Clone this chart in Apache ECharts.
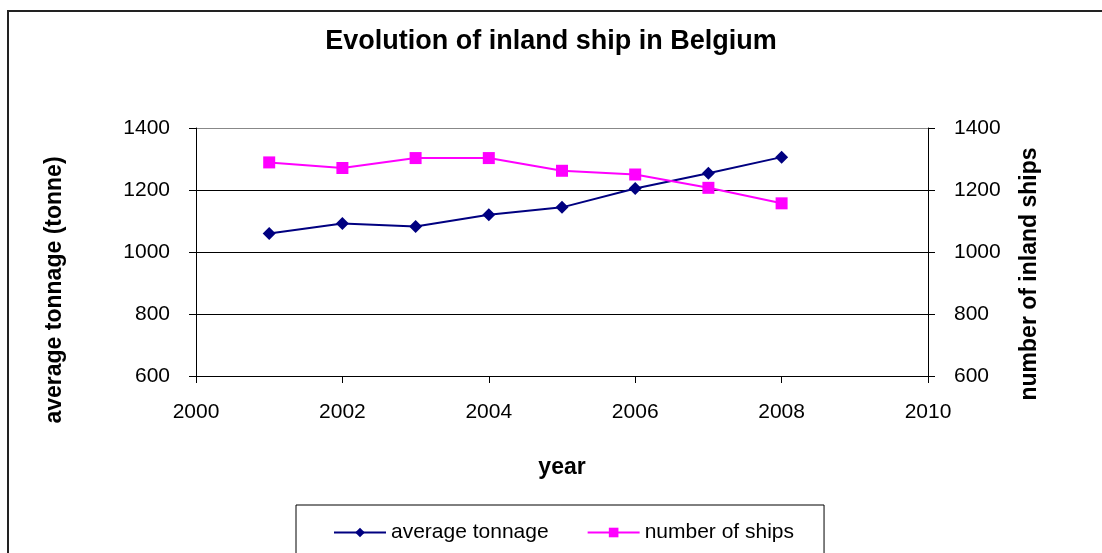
<!DOCTYPE html>
<html>
<head>
<meta charset="utf-8">
<script src="https://cdn.jsdelivr.net/npm/echarts@6/dist/echarts.min.js"></script>
<style>
  html, body { margin: 0; padding: 0; background: #fff; }
  #chart { width: 1102px; height: 553px; }
</style>
</head>
<body>
<div id="chart"></div>
<script>
// data
var years = [2001, 2002, 2003, 2004, 2005, 2006, 2007, 2008]
var avg_tonnage = [1060, 1092, 1082, 1120, 1144, 1205, 1254, 1306]
var ship_count = [1289, 1271, 1303, 1303, 1262, 1250, 1207, 1157]

var chart = echarts.init(document.getElementById('chart'));
var font = 'Liberation Sans, Arial, sans-serif';

function pairs(xs, ys) {
    return xs.map(function (x, i) { return [x, ys[i]]; });
}

// plain numbers, no thousands separator
function plain(v) { return String(v); }

var yAxisCommon = {
    type: 'value',
    min: 600,
    max: 1400,
    interval: 200,
    axisLine: { show: true, lineStyle: { color: '#000', width: 1 } },
    axisTick: { show: true, length: 7, lineStyle: { color: '#000' } },
    axisLabel: { color: '#000', fontSize: 21, fontFamily: font, margin: 26, formatter: plain }
};

option = {
    animation: false,
    backgroundColor: '#fff',
    title: {
        text: 'Evolution of inland ship in Belgium',
        left: 'center',
        top: 23,
        textStyle: { fontSize: 27, fontWeight: 'bold', color: '#000', fontFamily: font }
    },
    grid: { left: 196, right: 174, top: 128, bottom: 177, containLabel: false },
    legend: {
        left: 296,
        top: 505,
        padding: [17, 30, 30, 37],
        borderColor: '#000',
        borderWidth: 1,
        itemWidth: 52,
        itemHeight: 12,
        itemGap: 38,
        textStyle: { fontSize: 21, color: '#000', fontFamily: font },
        data: ['average tonnage', 'number of ships']
    },
    xAxis: {
        type: 'value',
        min: 2000,
        max: 2010,
        interval: 2,
        name: 'year',
        nameLocation: 'middle',
        nameGap: 80,
        nameTextStyle: { fontSize: 23, fontWeight: 'bold', color: '#000', fontFamily: font },
        axisLine: { show: true, lineStyle: { color: '#000' } },
        axisTick: { show: true, length: 7, lineStyle: { color: '#000' } },
        axisLabel: { color: '#000', fontSize: 21, fontFamily: font, margin: 26, formatter: plain },
        splitLine: { show: false }
    },
    yAxis: [
        Object.assign({}, yAxisCommon, {
            position: 'left',
            splitLine: { show: true, lineStyle: { color: ['#000', '#000', '#000', '#000', '#888'], width: 1 } }
        }),
        Object.assign({}, yAxisCommon, {
            position: 'right',
            splitLine: { show: false }
        })
    ],
    graphic: [
        {
            type: 'rect',
            shape: { x: 8, y: 11, width: 1200, height: 700 },
            style: { fill: 'none', stroke: '#222', lineWidth: 2 },
            silent: true,
            z: -1
        },
        {
            type: 'text',
            x: 55, y: 290, rotation: Math.PI / 2,
            style: {
                text: 'average tonnage (tonne)', fill: '#000',
                font: 'bold 23px ' + font, align: 'center', verticalAlign: 'middle'
            }
        },
        {
            type: 'text',
            x: 1030, y: 274, rotation: Math.PI / 2,
            style: {
                text: 'number of inland ships', fill: '#000',
                font: 'bold 23px ' + font, align: 'center', verticalAlign: 'middle'
            }
        }
    ],
    series: [
        {
            name: 'average tonnage',
            type: 'line',
            yAxisIndex: 0,
            data: pairs(years, avg_tonnage),
            symbol: 'diamond',
            symbolSize: 13,
            itemStyle: { color: '#000080' },
            lineStyle: { color: '#000080', width: 2 }
        },
        {
            name: 'number of ships',
            type: 'line',
            yAxisIndex: 1,
            data: pairs(years, ship_count),
            symbol: 'rect',
            symbolSize: 12,
            itemStyle: { color: '#ff00ff' },
            lineStyle: { color: '#ff00ff', width: 2 }
        }
    ]
};
chart.setOption(option);
</script>
</body>
</html>
